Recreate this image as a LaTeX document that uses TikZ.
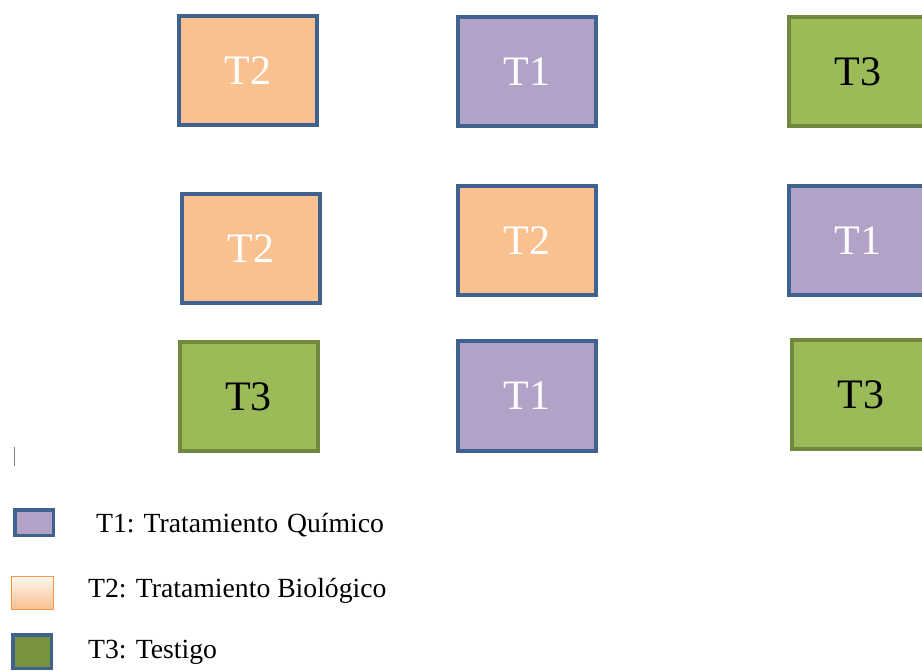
\documentclass[tikz,border=0pt]{standalone}
\usepackage{fontspec}
\setmainfont{Liberation Serif}
\definecolor{borde}{HTML}{3F628F}
\definecolor{morado}{HTML}{B3A2C7}
\definecolor{naranja}{HTML}{F9C18F}
\definecolor{verde}{HTML}{9BBB59}
\definecolor{verdeosc}{HTML}{71893F}
\definecolor{verdeley}{HTML}{77933C}
\definecolor{naranjaley}{HTML}{F79646}
\tikzset{
  parcela/.style={line width=4pt,minimum width=138pt,minimum height=109pt,
    inner sep=0pt,font=\fontsize{42}{48}\selectfont},
  quimico/.style={parcela,draw=borde,fill=morado,text=white},
  biologico/.style={parcela,draw=borde,fill=naranja,text=white},
  testigo/.style={parcela,draw=verdeosc,fill=verde,text=black},
  leyenda/.style={anchor=base west,inner sep=0pt,font=\fontsize{27.7}{32}\selectfont}
}
\begin{document}
\begin{tikzpicture}[x=1pt,y=-1pt]
  \useasboundingbox (0,0) rectangle (922,671);
  \begin{scope}
    \clip (0,0) rectangle (922,671);
    \node[biologico] (a1) at (248,71) {T2};
    \node[quimico]   (b1) at (527,71.5) {T1};
    \node[testigo]   (c1) at (858,71.5) {T3};

    \node[biologico] (a2) at (251,248.5) {T2};
    \node[biologico] (b2) at (527,241) {T2};
    \node[quimico]   (c2) at (858,240.5) {T1};

    \node[testigo]   (a3) at (248.5,396.5) {T3};
    \node[quimico]   (b3) at (527,396) {T1};
    \node[testigo]   (c3) at (861,394.5) {T3};
  \end{scope}

  \draw[gray,line width=1pt] (14,447) -- (14,466);

  \node[draw=borde,line width=3.5pt,fill=morado,minimum width=38.5pt,minimum height=25.5pt,
    inner sep=0pt] (lq) at (34,522.5) {};
  \node[draw=naranjaley,line width=1.2pt,top color=naranja!15!white,bottom color=naranja,
    minimum width=42pt,minimum height=33pt,inner sep=0pt] (lb) at (32.5,593) {};
  \node[draw=borde,line width=3.5pt,fill=verdeley,minimum width=38.5pt,minimum height=33.5pt,
    inner sep=0pt] (lt) at (32,651.5) {};

  \node[leyenda] (tq) at (96,532) {T1:\hspace{9pt}Tratamiento\hspace{9pt}Químico};
  \node[leyenda] (tb) at (88,597) {T2: Tratamiento Biológico};
  \node[leyenda] (tt) at (88,658) {T3: Testigo};
\end{tikzpicture}
\end{document}
